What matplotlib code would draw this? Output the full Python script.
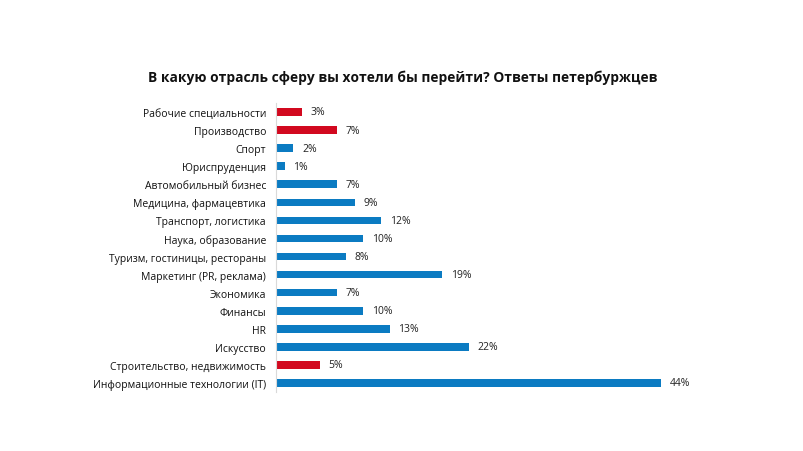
import matplotlib.pyplot as plt

plt.rcParams['font.family'] = ['Open Sans', 'DejaVu Sans']

categories = ['Рабочие специальности', 'Производство', 'Спорт', 'Юриспруденция',
              'Автомобильный бизнес', 'Медицина, фармацевтика', 'Транспорт, логистика',
              'Наука, образование', 'Туризм, гостиницы, рестораны', 'Маркетинг (PR, реклама)',
              'Экономика', 'Финансы', 'HR', 'Искусство', 'Строительство, недвижимость',
              'Информационные технологии (IT)']
values = [3, 7, 2, 1, 7, 9, 12, 10, 8, 19, 7, 10, 13, 22, 5, 44]
highlight = [True, True, False, False, False, False, False, False, False, False,
             False, False, False, False, True, False]

red = '#D2091F'
blue = '#0B7BC2'
colors = [red if h else blue for h in highlight]

fig = plt.figure(figsize=(8.04, 4.52), dpi=100)
ax = fig.add_axes([0.343, 0.1305, 0.545, 0.6395])

y = list(range(len(categories)))
ax.barh(y, values, height=0.42, color=colors)
for yi, v in zip(y, values):
    ax.text(v + 1.0, yi, f'{v}%', va='center', ha='left', fontsize=7.5, color='#222222')

ax.set_yticks(y)
ax.set_yticklabels(categories, fontsize=7.5, color='#111111')
ax.set_ylim(len(categories) - 0.5, -0.5)
ax.set_xlim(0, 50)
ax.set_xticks([])
ax.tick_params(axis='y', length=0, pad=7)
for s in ['top', 'right', 'bottom']:
    ax.spines[s].set_visible(False)
ax.spines['left'].set_color('#D9D9D9')
ax.spines['left'].set_linewidth(0.8)

fig.text(0.501, 0.829, 'В какую отрасль сферу вы хотели бы перейти? Ответы петербуржцев',
         ha='center', va='center', fontsize=9.9, fontweight='bold', color='#111111')

fig.savefig('out.png', dpi=100)
